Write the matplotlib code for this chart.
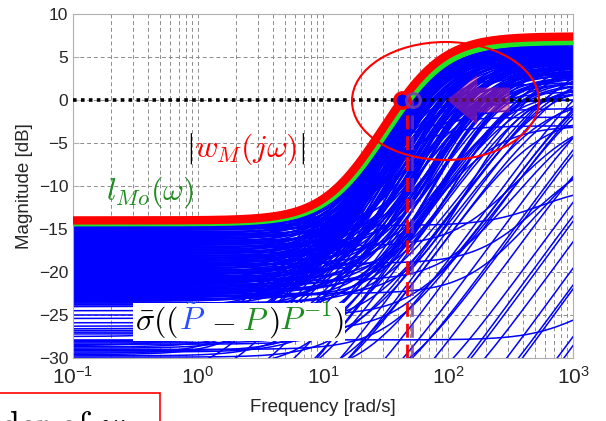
import numpy as np
import matplotlib
matplotlib.use("Agg")
import matplotlib.pyplot as plt
from matplotlib.patches import Ellipse, FancyArrow, Rectangle
from matplotlib.ticker import NullLocator
from matplotlib.transforms import IdentityTransform

plt.rcParams["font.family"] = ["Liberation Sans", "DejaVu Sans"]
plt.rcParams["mathtext.fontset"] = "cm"

# weights: (low-freq dB, high-freq dB, zero [rad/s], order)
W_M = (-14.0, 7.4, 16.3, 2)
L_MO = (-14.3, 6.8, 17.4, 2)

# relative error curves, second order family (dense mass under the envelope)
UP_LOW_DB = [-14.45, -14.6, -14.7, -14.85, -15.0, -15.1, -15.3, -15.45, -15.55, -15.7,
             -15.9, -16.0, -16.15, -16.3, -16.5, -16.6, -16.75, -16.9, -17.1, -17.2,
             -17.35, -17.5, -17.7, -17.8, -17.95, -18.1, -18.3, -18.4, -18.55, -18.7,
             -18.9, -19.0, -19.15, -19.3, -19.5, -19.6, -19.75, -19.9, -20.1, -20.2,
             -20.35, -20.5, -20.7, -20.8, -20.95, -21.1, -21.3, -21.4, -21.55, -21.7,
             -21.9, -22.0, -22.15, -22.3, -22.5, -22.6, -22.75, -22.9, -23.1, -23.3]
UP_ZERO = [19, 24, 31, 18.5, 45, 22, 28, 17.5, 36, 52,
           20, 26, 17, 40, 30, 23, 58, 19, 34, 16.5,
           27, 48, 21, 38, 16, 62, 25, 33, 18, 44,
           29, 15.5, 55, 22, 37, 15, 26, 66, 20, 41,
           14.5, 31, 24, 50, 17, 35, 14, 58, 21, 28,
           13.5, 46, 19, 39, 13, 25, 70, 16, 32, 13]
UP_HIGH_DB = [6.4, 6.1, 5.6, 6.3, 4.9, 6.0, 5.4, 6.2, 5.0, 4.2,
              5.9, 5.3, 6.1, 4.6, 5.5, 5.8, 3.6, 6.0, 4.8, 6.2,
              5.2, 3.9, 5.7, 4.4, 6.0, 3.1, 5.1, 4.5, 5.9, 3.8,
              4.9, 6.0, 2.9, 5.5, 4.1, 5.8, 4.7, 2.4, 5.6, 3.5,
              5.9, 4.3, 5.0, 2.7, 5.7, 3.9, 5.5, 2.0, 5.2, 4.4,
              5.3, 3.0, 5.6, 3.6, 5.0, 4.6, 1.6, 5.4, 3.8, 4.8]

# second order curves that run just below the envelope
HUG_LOW_DB = [-14.5, -14.65, -14.8, -14.95, -15.15, -15.35, -15.5, -15.65, -15.8, -16.05,
              -16.25, -16.4, -16.55, -16.7, -16.85, -17.05, -17.25, -17.4, -17.6, -17.75,
              -17.9, -18.05, -18.2, -18.35, -18.5, -18.65, -18.8, -18.95, -19.1, -19.25,
              -19.4, -19.55, -19.7, -19.85, -20.0, -20.15, -20.3, -20.45, -20.6, -20.75,
              -20.9, -21.05, -21.2, -21.35, -21.5, -21.65, -21.8, -21.95, -22.1, -22.25,
              -22.4, -22.55, -22.7, -22.85, -23.0, -23.15, -23.4, -23.6, -23.8, -24.0]
HUG_ZERO = [17.8, 19.5, 17.6, 21, 17.3, 23, 17.0, 19, 16.6, 25,
            16.2, 18.5, 15.9, 21, 15.6, 27, 15.3, 17.5, 15.0, 20,
            14.8, 30, 14.5, 16.5, 14.3, 22, 14.0, 18, 13.8, 33,
            13.6, 16, 13.4, 24, 13.2, 19, 12.9, 36, 12.8, 15.5,
            12.6, 27, 12.4, 17, 12.2, 40, 12.0, 20, 11.8, 30,
            11.6, 14.5, 11.5, 44, 11.3, 22, 11.0, 34, 10.8, 16]
HUG_HIGH_DB = [6.3, 5.8, 6.2, 5.4, 6.1, 5.0, 6.2, 5.6, 6.0, 4.6,
               6.1, 5.5, 5.9, 4.9, 6.0, 4.3, 5.8, 5.3, 6.0, 4.7,
               5.9, 3.9, 5.7, 5.1, 5.9, 4.4, 5.6, 4.9, 5.8, 3.4,
               5.5, 5.0, 5.7, 4.1, 5.4, 4.6, 5.6, 3.0, 5.3, 4.8,
               5.5, 3.7, 5.2, 4.5, 5.4, 2.6, 5.1, 4.2, 5.3, 3.3,
               5.0, 4.4, 5.2, 2.2, 4.9, 3.9, 5.0, 2.8, 4.7, 3.6]

# relative error curves, first order family (spread lines)
LO_LOW_DB = [-23.2, -23.6, -24.0, -24.5, -25.0, -25.4, -25.9, -26.3, -26.8, -27.2,
             -27.9, -28.1, -28.4, -28.7, -29.0, -29.3, -29.6, -29.9,
             -26.6, -27.0, -27.5, -28.0, -28.25, -28.55, -28.85, -29.15, -29.45, -29.75,
             -31, -32, -33, -34, -35, -36, -37, -38, -39, -40,
             -41, -42, -43, -44, -46, -48, -50,
             -34, -36, -33, -38, -35, -40, -32, -37, -39, -34.5,
             -14.6, -17.0, -19.0, -21.0, -22.5]
LO_ZERO = [9, 30, 5, 18, 60, 7, 25, 4, 45, 12,
           900, 6, 20, 3, 35, 10, 2.5, 15,
           3.5, 8, 2, 5, 14, 1.5, 4, 9, 2.2, 6,
           8, 22, 14, 40, 11, 30, 55, 19, 75, 26,
           45, 95, 33, 60, 120, 50, 85,
           3, 5, 2, 6, 4, 3, 1.6, 8, 12, 7,
           420, 150, 250, 110, 180]
LO_HIGH_DB = [3, 4, 2, 5, 3, 1, 5, -1, 4, 2,
              -22, 4, 0, 3, 5, -3, 5, 2,
              2, 4, -2, 3, 5, 0, 4, 1, 3, 5,
              4, 6, 1, 5, -2, 6, 4, 3, 6, 0,
              5, 6, 2, 4, 6, 3, 5,
              2, 4, 0, 3, 5, 1, -3, 4, 5, 2,
              -10, -2, -6, -1, -4]

CROSS_RED = 43.0
CROSS_PURPLE = 52.0
VLINE_RED = 47.0
VLINE_PURPLE = 51.5


def mag_db(w, low_db, high_db, zero, order):
    k = 10 ** (low_db / 20)
    pole = zero * 10 ** ((high_db - low_db) / (20 * order))
    s = 1j * w
    return 20 * np.log10(np.abs(k * ((1 + s / zero) / (1 + s / pole)) ** order))


def put_pieces(fig, x, y_top, pieces, size):
    # pieces: (mathtext, colour, gap after in px), laid out on one baseline
    renderer = fig.canvas.get_renderer()
    h = fig.bbox.height
    boxes = []
    for s, c, gap in pieces:
        t = fig.text(x, h - y_top, s, color=c, fontsize=size, ha="left",
                     va="baseline", transform=IdentityTransform(), zorder=5)
        bb = t.get_window_extent(renderer)
        boxes.append(bb)
        x = bb.x1 + gap
    return boxes


fig = plt.figure(figsize=(6.06, 4.21), dpi=100)
ax = fig.add_axes([73 / 606, 1 - 358 / 421, 500 / 606, 344 / 421])
ax.set_xscale("log")

w = np.logspace(-1, 3, 800)

for lo, hi, z in zip(UP_LOW_DB + HUG_LOW_DB, UP_HIGH_DB + HUG_HIGH_DB, UP_ZERO + HUG_ZERO):
    ax.plot(w, mag_db(w, lo, hi, z, 2), color=(0, 0, 1), lw=1.2, zorder=2)
for lo, hi, z in zip(LO_LOW_DB, LO_HIGH_DB, LO_ZERO):
    ax.plot(w, mag_db(w, lo, hi, z, 1), color=(0, 0, 1), lw=1.1, zorder=2)

ax.plot(w, mag_db(w, *L_MO), color="#22e622", lw=5, zorder=3)
ax.plot(w, mag_db(w, *W_M), color="red", lw=6, zorder=4)

ax.axhline(0, color="black", ls=(0, (1, 1.2)), lw=2.6, zorder=5)

ax.add_patch(Ellipse(((445.5 - 73) / 500, 1 - (101 - 14) / 344), 187 / 500, 118 / 344,
                     transform=ax.transAxes, fill=False, ec="red", lw=1.5, zorder=6))
ax.add_patch(FancyArrow(0.874, 0.75, -0.126, 0, width=25 / 344, head_width=50 / 344,
                        head_length=30 / 500, length_includes_head=True,
                        transform=ax.transAxes, color=(0.75, 0.15, 0.45), alpha=0.5,
                        lw=0, zorder=7))

ax.vlines(VLINE_RED, -30, 0, colors="red", linestyles=(0, (5, 2.5)), lw=2, zorder=7)
ax.vlines(VLINE_PURPLE, -30, 0, colors=(0.45, 0.2, 0.65), linestyles=(0, (5, 2.5)),
          lw=2, alpha=0.8, zorder=7)
ax.plot(CROSS_RED, 0, "o", ms=11, mfc="blue", mec="red", mew=2.5, zorder=8)
ax.plot(CROSS_PURPLE, 0, "o", ms=10, mfc="none", mec=(0.45, 0.25, 0.65), mew=2.2,
        alpha=0.85, zorder=8)

ax.set_xlim(0.1, 1000)
ax.set_ylim(-30, 10)
ax.set_yticks(np.arange(-30, 11, 5))
ax.yaxis.set_minor_locator(NullLocator())
ax.grid(True, which="major", ls=(0, (4, 3)), color="#8c8c8c", lw=0.7)
ax.grid(True, which="minor", axis="x", ls=(0, (4, 3)), color="#8c8c8c", lw=0.7)
ax.set_axisbelow(True)
ax.tick_params(which="both", direction="in", color="#b0b0b0", labelcolor="#262626")
ax.tick_params(which="major", length=4)
ax.tick_params(which="minor", length=2)
ax.tick_params(axis="y", labelsize=12.5)
ax.tick_params(axis="x", labelsize=15, pad=6)
for sp in ax.spines.values():
    sp.set_color("#b0b0b0")

ax.set_xlabel("Frequency [rad/s]", fontsize=13.5, color="#262626", labelpad=8)
ax.set_ylabel("Magnitude [dB]", fontsize=13.5, color="#262626", labelpad=4)

green = "#1e8c1e"
put_pieces(fig, 186, 157, [(r"$|$", "black", 1), (r"$w_M(j\omega)$", "red", 1),
                           (r"$|$", "black", 0)], 23)
put_pieces(fig, 106, 200, [(r"$l_{Mo}(\omega)$", green, 0)], 23)
boxes = put_pieces(fig, 135, 330, [(r"$\bar{\sigma}(($", "black", 1),
                                   (r"$\tilde{P}$", (0.15, 0.3, 1.0), 6),
                                   (r"$-$", "black", 6), (r"$P$", green, 0),
                                   (r"$)$", "black", 0), (r"$P^{-1}$", green, 0),
                                   (r"$)$", "black", 0)], 23)
x0 = min(b.x0 for b in boxes)
x1 = max(b.x1 for b in boxes)
y0 = min(b.y0 for b in boxes)
y1 = max(b.y1 for b in boxes)
fig.add_artist(Rectangle((x0 - 2, y0 - 1), x1 - x0 + 4, y1 - y0 + 2,
                         transform=IdentityTransform(), fc="white", ec="none", zorder=2))

fig.add_artist(Rectangle((-5, -24), 165, 52, transform=IdentityTransform(),
                         fc="white", ec="red", lw=1.2, zorder=2))
put_pieces(fig, -1, 437, [(r"$\mathrm{der\ of}\ w_M$", "black", 0)], 26)

fig.savefig("out.png", dpi=100)
